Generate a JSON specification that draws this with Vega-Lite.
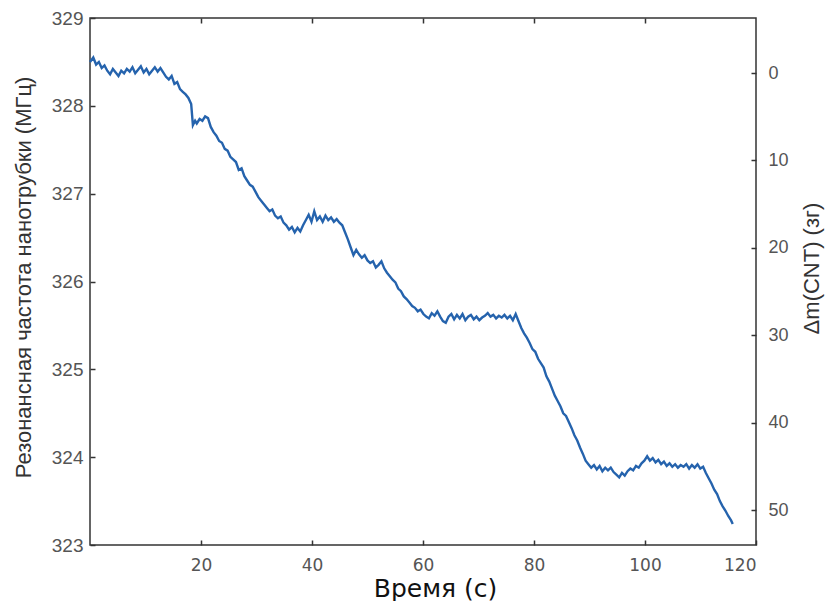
{
  "$schema": "https://vega.github.io/schema/vega-lite/v6.json",
  "width": 666,
  "height": 527,
  "autosize": {"type": "none"},
  "padding": {"left": 90, "top": 18, "right": 74, "bottom": 56},
  "background": "white",
  "config": {
    "view": {"stroke": "#333", "strokeWidth": 1.5},
    "axis": {"domain": false, "grid": false, "ticks": true, "tickColor": "#333", "tickSize": 5, "tickWidth": 1.5, "offset": -5, "labelColor": "#555", "titleFontWeight": "normal"}
  },
  "datasets": {
    "signal": [
      {"t": 0, "f": 328.50}, {"t": 0.59, "f": 328.55}, {"t": 1.10, "f": 328.47}, {"t": 1.60, "f": 328.50}, {"t": 2.11, "f": 328.43},
      {"t": 2.61, "f": 328.46}, {"t": 3.11, "f": 328.40}, {"t": 3.62, "f": 328.36}, {"t": 4.12, "f": 328.42}, {"t": 4.63, "f": 328.38},
      {"t": 5.13, "f": 328.34}, {"t": 5.63, "f": 328.40}, {"t": 6.14, "f": 328.37}, {"t": 6.64, "f": 328.42}, {"t": 7.15, "f": 328.39},
      {"t": 7.65, "f": 328.44}, {"t": 8.15, "f": 328.37}, {"t": 8.66, "f": 328.41}, {"t": 9.16, "f": 328.45}, {"t": 9.67, "f": 328.38},
      {"t": 10.17, "f": 328.42}, {"t": 10.67, "f": 328.36}, {"t": 11.18, "f": 328.40}, {"t": 11.68, "f": 328.44}, {"t": 12.19, "f": 328.39},
      {"t": 12.69, "f": 328.43}, {"t": 13.19, "f": 328.38}, {"t": 13.70, "f": 328.33}, {"t": 14.20, "f": 328.30}, {"t": 14.71, "f": 328.34},
      {"t": 15.21, "f": 328.25}, {"t": 15.71, "f": 328.27}, {"t": 16.22, "f": 328.19}, {"t": 16.72, "f": 328.16}, {"t": 17.23, "f": 328.13},
      {"t": 17.73, "f": 328.09}, {"t": 18.23, "f": 328.02}, {"t": 18.54, "f": 327.78}, {"t": 18.94, "f": 327.83}, {"t": 19.24, "f": 327.80},
      {"t": 19.75, "f": 327.85}, {"t": 20.25, "f": 327.83}, {"t": 20.75, "f": 327.88}, {"t": 21.26, "f": 327.86}, {"t": 21.76, "f": 327.76},
      {"t": 22.27, "f": 327.70}, {"t": 22.77, "f": 327.66}, {"t": 23.27, "f": 327.60}, {"t": 23.78, "f": 327.58}, {"t": 24.28, "f": 327.51},
      {"t": 24.79, "f": 327.49}, {"t": 25.29, "f": 327.42}, {"t": 25.79, "f": 327.39}, {"t": 26.30, "f": 327.36}, {"t": 26.80, "f": 327.27},
      {"t": 27.31, "f": 327.29}, {"t": 27.81, "f": 327.20}, {"t": 28.31, "f": 327.15}, {"t": 28.82, "f": 327.10}, {"t": 29.32, "f": 327.08},
      {"t": 29.83, "f": 327.02}, {"t": 30.33, "f": 326.96}, {"t": 30.83, "f": 326.92}, {"t": 31.34, "f": 326.88}, {"t": 31.84, "f": 326.84},
      {"t": 32.35, "f": 326.80}, {"t": 32.85, "f": 326.82}, {"t": 33.35, "f": 326.75}, {"t": 33.86, "f": 326.72}, {"t": 34.36, "f": 326.74},
      {"t": 34.87, "f": 326.67}, {"t": 35.37, "f": 326.64}, {"t": 35.87, "f": 326.59}, {"t": 36.38, "f": 326.62}, {"t": 36.88, "f": 326.56},
      {"t": 37.39, "f": 326.61}, {"t": 37.89, "f": 326.57}, {"t": 38.39, "f": 326.64}, {"t": 38.90, "f": 326.70}, {"t": 39.40, "f": 326.76},
      {"t": 39.91, "f": 326.68}, {"t": 40.41, "f": 326.80}, {"t": 40.91, "f": 326.70}, {"t": 41.42, "f": 326.74}, {"t": 41.92, "f": 326.68},
      {"t": 42.43, "f": 326.75}, {"t": 42.93, "f": 326.70}, {"t": 43.43, "f": 326.73}, {"t": 43.94, "f": 326.68}, {"t": 44.44, "f": 326.71},
      {"t": 44.95, "f": 326.67}, {"t": 45.45, "f": 326.64}, {"t": 45.95, "f": 326.56}, {"t": 46.46, "f": 326.48}, {"t": 46.96, "f": 326.39},
      {"t": 47.47, "f": 326.30}, {"t": 47.97, "f": 326.36}, {"t": 48.47, "f": 326.31}, {"t": 48.98, "f": 326.27}, {"t": 49.48, "f": 326.30},
      {"t": 49.99, "f": 326.24}, {"t": 50.49, "f": 326.21}, {"t": 50.99, "f": 326.23}, {"t": 51.50, "f": 326.16}, {"t": 52.00, "f": 326.19},
      {"t": 52.51, "f": 326.23}, {"t": 53.01, "f": 326.15}, {"t": 53.51, "f": 326.10}, {"t": 54.02, "f": 326.06}, {"t": 54.52, "f": 326.02},
      {"t": 55.03, "f": 325.99}, {"t": 55.53, "f": 325.92}, {"t": 56.03, "f": 325.89}, {"t": 56.54, "f": 325.83}, {"t": 57.04, "f": 325.80},
      {"t": 57.55, "f": 325.76}, {"t": 58.05, "f": 325.72}, {"t": 58.55, "f": 325.70}, {"t": 59.06, "f": 325.66}, {"t": 59.56, "f": 325.68},
      {"t": 60.07, "f": 325.63}, {"t": 60.57, "f": 325.60}, {"t": 61.07, "f": 325.58}, {"t": 61.58, "f": 325.64}, {"t": 62.08, "f": 325.61},
      {"t": 62.59, "f": 325.66}, {"t": 63.09, "f": 325.60}, {"t": 63.59, "f": 325.55}, {"t": 64.10, "f": 325.53}, {"t": 64.60, "f": 325.60},
      {"t": 65.11, "f": 325.63}, {"t": 65.61, "f": 325.57}, {"t": 66.11, "f": 325.62}, {"t": 66.62, "f": 325.58}, {"t": 67.12, "f": 325.63},
      {"t": 67.63, "f": 325.56}, {"t": 68.13, "f": 325.60}, {"t": 68.63, "f": 325.62}, {"t": 69.14, "f": 325.57}, {"t": 69.64, "f": 325.60},
      {"t": 70.15, "f": 325.56}, {"t": 70.65, "f": 325.59}, {"t": 71.15, "f": 325.61}, {"t": 71.66, "f": 325.64}, {"t": 72.16, "f": 325.60},
      {"t": 72.67, "f": 325.62}, {"t": 73.17, "f": 325.58}, {"t": 73.67, "f": 325.61}, {"t": 74.18, "f": 325.59}, {"t": 74.68, "f": 325.62},
      {"t": 75.19, "f": 325.58}, {"t": 75.69, "f": 325.61}, {"t": 76.19, "f": 325.56}, {"t": 76.70, "f": 325.63}, {"t": 77.20, "f": 325.55},
      {"t": 77.71, "f": 325.47}, {"t": 78.21, "f": 325.41}, {"t": 78.71, "f": 325.36}, {"t": 79.22, "f": 325.30}, {"t": 79.72, "f": 325.23},
      {"t": 80.23, "f": 325.20}, {"t": 80.73, "f": 325.12}, {"t": 81.23, "f": 325.07}, {"t": 81.74, "f": 325.02}, {"t": 82.24, "f": 324.92},
      {"t": 82.75, "f": 324.86}, {"t": 83.25, "f": 324.78}, {"t": 83.75, "f": 324.70}, {"t": 84.26, "f": 324.64}, {"t": 84.76, "f": 324.58},
      {"t": 85.27, "f": 324.50}, {"t": 85.77, "f": 324.47}, {"t": 86.27, "f": 324.40}, {"t": 86.78, "f": 324.33}, {"t": 87.28, "f": 324.25},
      {"t": 87.79, "f": 324.19}, {"t": 88.29, "f": 324.11}, {"t": 88.79, "f": 324.04}, {"t": 89.30, "f": 323.96}, {"t": 89.80, "f": 323.92},
      {"t": 90.31, "f": 323.88}, {"t": 90.81, "f": 323.91}, {"t": 91.31, "f": 323.86}, {"t": 91.82, "f": 323.90}, {"t": 92.32, "f": 323.84},
      {"t": 92.83, "f": 323.88}, {"t": 93.33, "f": 323.85}, {"t": 93.83, "f": 323.88}, {"t": 94.34, "f": 323.83}, {"t": 94.84, "f": 323.80},
      {"t": 95.35, "f": 323.77}, {"t": 95.85, "f": 323.82}, {"t": 96.35, "f": 323.79}, {"t": 96.86, "f": 323.84}, {"t": 97.36, "f": 323.87},
      {"t": 97.87, "f": 323.85}, {"t": 98.37, "f": 323.90}, {"t": 98.87, "f": 323.88}, {"t": 99.38, "f": 323.93}, {"t": 99.88, "f": 323.96},
      {"t": 100.39, "f": 324.01}, {"t": 100.89, "f": 323.96}, {"t": 101.39, "f": 323.99}, {"t": 101.90, "f": 323.94}, {"t": 102.40, "f": 323.97},
      {"t": 102.91, "f": 323.92}, {"t": 103.41, "f": 323.95}, {"t": 103.91, "f": 323.90}, {"t": 104.42, "f": 323.93}, {"t": 104.92, "f": 323.89},
      {"t": 105.43, "f": 323.92}, {"t": 105.93, "f": 323.88}, {"t": 106.43, "f": 323.91}, {"t": 106.94, "f": 323.89}, {"t": 107.44, "f": 323.92},
      {"t": 107.95, "f": 323.87}, {"t": 108.45, "f": 323.91}, {"t": 108.95, "f": 323.88}, {"t": 109.46, "f": 323.92}, {"t": 109.96, "f": 323.87},
      {"t": 110.47, "f": 323.89}, {"t": 110.97, "f": 323.82}, {"t": 111.47, "f": 323.76}, {"t": 111.98, "f": 323.70}, {"t": 112.48, "f": 323.63},
      {"t": 112.99, "f": 323.58}, {"t": 113.49, "f": 323.50}, {"t": 113.99, "f": 323.44}, {"t": 114.50, "f": 323.39}, {"t": 115.00, "f": 323.33},
      {"t": 115.51, "f": 323.28}, {"t": 115.81, "f": 323.24}
    ],
    "mass": [{"dm": 0}, {"dm": 10}, {"dm": 20}, {"dm": 30}, {"dm": 40}, {"dm": 50}]
  },
  "layer": [
    {
      "data": {"name": "signal"},
      "mark": {"type": "line", "color": "#2563ad", "strokeWidth": 2.4},
      "encoding": {
        "x": {
          "field": "t", "type": "quantitative",
          "scale": {"domain": [0, 120], "nice": false, "zero": false},
          "axis": {
            "orient": "bottom", "values": [20, 40, 60, 80, 100, 120],
            "labelFont": "DejaVu Sans", "labelFontSize": 17, "labelPadding": 12,
            "title": "Время (с)", "titleFont": "DejaVu Sans", "titleFontSize": 25, "titleColor": "#111",
            "titleX": 345, "titleY": 48, "titleBaseline": "middle", "titleAlign": "center"
          }
        },
        "y": {
          "field": "f", "type": "quantitative",
          "scale": {"domain": [323, 329], "nice": false, "zero": false},
          "axis": {
            "orient": "left", "values": [323, 324, 325, 326, 327, 328, 329],
            "labelFont": "Liberation Sans", "labelFontSize": 19, "labelPadding": 7,
            "title": "Резонансная частота нанотрубки (МГц)", "titleFont": "Liberation Sans", "titleFontSize": 22, "titleColor": "#333",
            "titleAngle": 270, "titleX": -72, "titleY": 259, "titleBaseline": "middle", "titleAlign": "center"
          }
        }
      }
    },
    {
      "data": {"name": "signal"},
      "mark": {"type": "line", "opacity": 0},
      "encoding": {
        "x": {"field": "t", "type": "quantitative", "axis": {"orient": "top", "values": [20, 40, 60, 80, 100], "labels": false, "title": null}},
        "y": {"field": "f", "type": "quantitative", "scale": {"zero": false}, "axis": null}
      }
    },
    {
      "data": {"name": "mass"},
      "mark": {"type": "rule", "opacity": 0},
      "encoding": {
        "y": {
          "field": "dm", "type": "quantitative",
          "scale": {"domain": [-6.3, 54], "reverse": true, "nice": false, "zero": false},
          "axis": {
            "orient": "right", "values": [0, 10, 20, 30, 40, 50],
            "labelFont": "Liberation Sans", "labelFontSize": 18, "labelPadding": 12,
            "title": "Δm(CNT) (зг)", "titleFont": "Liberation Sans", "titleFontSize": 22, "titleColor": "#333",
            "titleAngle": 270, "titleX": 60, "titleY": 250, "titleBaseline": "middle", "titleAlign": "center"
          }
        }
      }
    }
  ],
  "resolve": {"scale": {"y": "independent"}, "axis": {"x": "independent", "y": "independent"}}
}
